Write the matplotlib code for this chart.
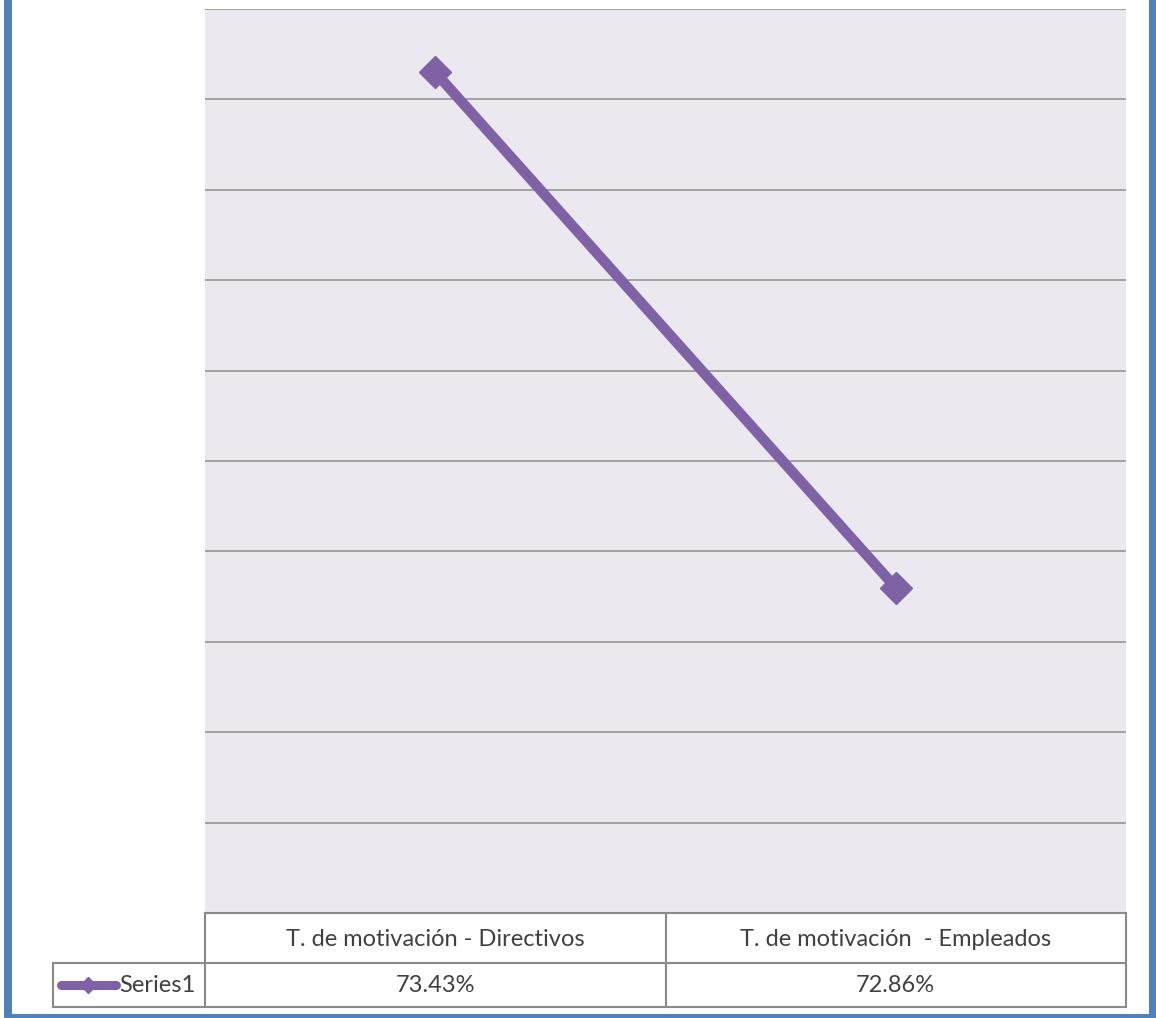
import numpy as np
import matplotlib
matplotlib.use('Agg')
import matplotlib.pyplot as plt
from matplotlib.lines import Line2D
from matplotlib.patches import Rectangle

# datos de la serie
categorias = ['T. de motivación - Directivos', 'T. de motivación  - Empleados']
serie_nombre = 'Series1'
valores = [73.43, 72.86]  # porcentaje
etiquetas_valor = ['73.43%', '72.86%']

W, H = 1156, 1018
MORADO = '#7F62A6'
AZUL = '#4F81BD'
GRIS_TXT = '#404040'
GRIS_BORDE = '#8A8A8A'
FS = 17

plt.rcParams['font.family'] = ['Lato', 'DejaVu Sans']

fig = plt.figure(figsize=(W / 100, H / 100), dpi=100)
fig.patch.set_facecolor('white')

# zona del grafico (en pixeles)
px_izq, px_der, px_sup, px_inf = 205, 1126, 9, 913
ax = fig.add_axes([px_izq / W, 1 - px_inf / H, (px_der - px_izq) / W, (px_inf - px_sup) / H])
ax.set_facecolor('#EBE9EF')
ax.set_xlim(-0.5, len(categorias) - 0.5)
ax.set_ylim(72.5, 73.5)
ax.set_yticks(np.arange(72.5, 73.55, 0.1))
ax.set_xticks([])
ax.tick_params(left=False, labelleft=False)
ax.grid(axis='y', color='#A2A2A2', linewidth=1.4)
ax.set_axisbelow(True)
for s in ax.spines.values():
    s.set_visible(False)

x = np.arange(len(categorias))
ax.plot(x, valores, color=MORADO, linewidth=7.5, marker='D', markersize=16,
        markerfacecolor=MORADO, markeredgecolor=MORADO, solid_capstyle='butt')

# capa superior para la tabla de datos y el marco
ov = fig.add_axes([0, 0, 1, 1])
ov.set_xlim(0, W)
ov.set_ylim(H, 0)
ov.axis('off')
ov.patch.set_alpha(0)

fila1_sup, fila1_inf, fila2_inf = 913, 963, 1007
leyenda_izq = 53
ancho_col = (px_der - px_izq) / len(categorias)
bordes_x = [px_izq + i * ancho_col for i in range(len(categorias) + 1)]

kw = dict(color=GRIS_BORDE, linewidth=1.5)
ov.add_line(Line2D([px_izq, px_der], [fila1_sup, fila1_sup], **kw))
ov.add_line(Line2D([leyenda_izq, px_der], [fila1_inf, fila1_inf], **kw))
ov.add_line(Line2D([leyenda_izq, px_der], [fila2_inf, fila2_inf], **kw))
ov.add_line(Line2D([leyenda_izq, leyenda_izq], [fila1_inf, fila2_inf], **kw))
for bx in bordes_x:
    ov.add_line(Line2D([bx, bx], [fila1_sup, fila2_inf], **kw))

for i, (cat, et) in enumerate(zip(categorias, etiquetas_valor)):
    cx = (bordes_x[i] + bordes_x[i + 1]) / 2
    ov.text(cx, (fila1_sup + fila1_inf) / 2 + 1, cat, ha='center', va='center',
            fontsize=FS, color=GRIS_TXT)
    ov.text(cx, (fila1_inf + fila2_inf) / 2 + 1, et, ha='center', va='center',
            fontsize=FS, color=GRIS_TXT)

# clave de leyenda dentro de la tabla
fy = (fila1_inf + fila2_inf) / 2
ov.add_line(Line2D([61, 116], [fy, fy], color=MORADO, linewidth=6.5, solid_capstyle='round'))
ov.add_line(Line2D([88], [fy], color=MORADO, marker='D', markersize=8, linestyle='none'))
ov.text(119, fy + 1, serie_nombre, ha='left', va='center', fontsize=FS, color=GRIS_TXT)

# marco azul
ov.add_patch(Rectangle((4, 0), 8, H, color=AZUL, lw=0))
ov.add_patch(Rectangle((1149, 0), 7, H, color=AZUL, lw=0))
ov.add_patch(Rectangle((4, 1014), W - 4, 4, color=AZUL, lw=0))

fig.savefig('out.png', dpi=100)
